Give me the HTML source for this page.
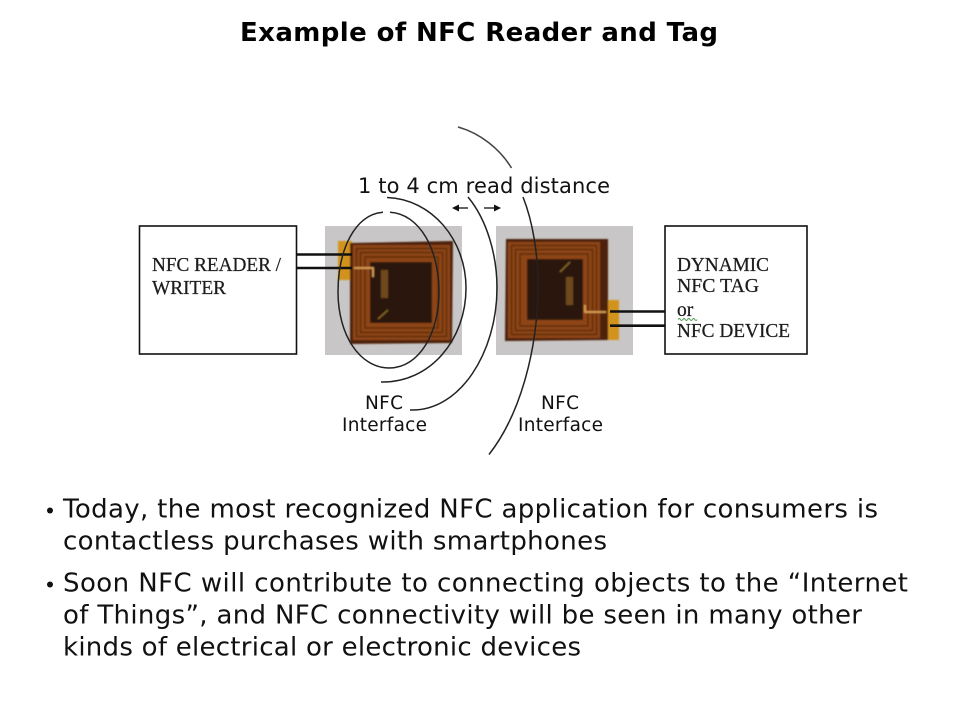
<!DOCTYPE html>
<html><head><meta charset="utf-8"><style>
html,body{margin:0;padding:0;background:#fff}
svg{display:block}
.v{font-family:"DejaVu Sans","Liberation Sans",sans-serif;fill:#111}
.s{font-family:"Liberation Serif",serif;fill:#1c1c1c;font-size:19.5px;stroke:#1c1c1c;stroke-width:.25px}
</style></head><body>
<svg width="960" height="720" viewBox="0 0 960 720" xmlns="http://www.w3.org/2000/svg">
<defs>
<filter id="b" x="-5%" y="-5%" width="110%" height="110%"><feGaussianBlur stdDeviation="0.8"/></filter>
<filter id="t" x="-5%" y="-20%" width="110%" height="140%"><feGaussianBlur stdDeviation="0.3"/></filter>
</defs>
<rect width="960" height="720" fill="#fff"/>
<text class="v" x="240" y="41" font-size="26" font-weight="bold" textLength="478" style="fill:#000">Example of NFC Reader and Tag</text>

<!-- boxes -->
<rect x="139.5" y="226" width="157" height="128" fill="#fff" stroke="#111" stroke-width="1.6"/>
<rect x="665" y="226" width="142" height="128" fill="#fff" stroke="#111" stroke-width="1.6"/>
<g filter="url(#t)">
<text class="s" x="152" y="271" textLength="129" lengthAdjust="spacingAndGlyphs">NFC READER /</text>
<text class="s" x="152" y="294" textLength="74" lengthAdjust="spacingAndGlyphs">WRITER</text>
<text class="s" x="677" y="271" textLength="92" lengthAdjust="spacingAndGlyphs">DYNAMIC</text>
<text class="s" x="677" y="292" textLength="82" lengthAdjust="spacingAndGlyphs">NFC TAG</text>
<text class="s" x="677" y="316">or</text>
<text class="s" x="677" y="337" textLength="113" lengthAdjust="spacingAndGlyphs">NFC DEVICE</text>
</g>
<path d="M678 319.500q1.200-2 2.400 0t2.400 0 2.400 0 2.400 0 2.400 0 2.400 0 2.400 0 2.400 0" fill="none" stroke="#4a9a4a" stroke-width=".9"/>

<!-- left chip -->
<rect x="325" y="226" width="137" height="129" fill="#c8c6c6"/>
<g filter="url(#b)">
<rect x="338" y="241" width="14" height="39" fill="#d2931e"/>
<path d="M350 243L453 241L452 343L350 344Z" fill="#4e2209"/>
<rect x="353" y="245" width="97" height="95" fill="#8e4516"/>
<rect x="356.500" y="248.500" width="90" height="88" fill="none" stroke="#5f2b0d" stroke-width="1.500"/>
<rect x="360.500" y="252.500" width="82" height="80" fill="none" stroke="#5f2b0d" stroke-width="1.500"/>
<rect x="365" y="257" width="73" height="71" fill="none" stroke="#5f2b0d" stroke-width="1.500"/>
<rect x="370" y="262" width="62" height="61" fill="#2c1407"/>
<rect x="381" y="270" width="7" height="28" fill="#6e4a1c"/>
<path d="M378 319l10-9" stroke="#8a6a28" stroke-width="1.500"/>
<path d="M354 268h19v9" fill="none" stroke="#e0a558" stroke-width="1.800"/>
</g>

<!-- right chip -->
<rect x="496" y="226" width="137" height="129" fill="#c8c6c6"/>
<g filter="url(#b)">
<rect x="606" y="300" width="13" height="40" fill="#d2931e"/>
<path d="M506 239L608 239L608 340L505 341Z" fill="#4e2209"/>
<rect x="508" y="242" width="92" height="96" fill="#8e4516"/>
<rect x="511.500" y="245.500" width="85" height="89" fill="none" stroke="#5f2b0d" stroke-width="1.500"/>
<rect x="515.500" y="249.500" width="77" height="81" fill="none" stroke="#5f2b0d" stroke-width="1.500"/>
<rect x="520" y="254" width="68" height="72" fill="none" stroke="#5f2b0d" stroke-width="1.500"/>
<rect x="527" y="259" width="56" height="61" fill="#2c1407"/>
<rect x="566" y="277" width="7" height="28" fill="#6e4a1c"/>
<path d="M570 262l-10 10" stroke="#8a6a28" stroke-width="1.500"/>
<path d="M606 312h-21v-7" fill="none" stroke="#e0a558" stroke-width="1.800"/>
</g>

<!-- wires -->
<g stroke="#111" stroke-width="2.600" fill="none">
<path d="M297 254.500h55M297 268h55M610 311.500h55M610 325.700h55"/>
</g>

<!-- field arcs -->
<g fill="none" stroke="#222" stroke-width="1.500">
<path d="M383 212.300C355 214 338 250 338 292C338 335 360 368 389 368C420 368 439 332 439 292C439 250 420 214 390 212.300"/>
<path d="M387 197.500C432 199 466 240 466 288C466 340 430 383 381 382"/>
<path d="M468 197C487 220 497 255 497 288C497 352 460 412 410 410"/>
<path d="M458 127C480 133 500 149 511.500 168" stroke="#444"/>
<path d="M523 197C533 222 538 255 538 285C538 350 520 415 489 454.500"/>
</g>

<!-- arrows -->
<g stroke="#111" stroke-width="1.300" fill="#111">
<path d="M468 208H457" fill="none"/><path d="M452 208l7-3.500v7z" stroke="none"/>
<path d="M484 208H496" fill="none"/><path d="M501 208l-7-3.500v7z" stroke="none"/>
</g>

<text class="v" x="358" y="193" font-size="21" textLength="252">1 to 4 cm read distance</text>
<text class="v" x="365" y="409" font-size="18.500" textLength="38">NFC</text>
<text class="v" x="342" y="431" font-size="18.500" textLength="85">Interface</text>
<text class="v" x="541" y="409" font-size="18.500" textLength="38">NFC</text>
<text class="v" x="518" y="431" font-size="18.500" textLength="85">Interface</text>

<!-- bullets -->
<circle cx="50" cy="510.500" r="3" fill="#111"/>
<circle cx="50" cy="584.500" r="3" fill="#111"/>
<g font-size="26">
<text class="v" x="63" y="517.500" textLength="815">Today, the most recognized NFC application for consumers is</text>
<text class="v" x="63" y="549.500" textLength="544">contactless purchases with smartphones</text>
<text class="v" x="63" y="591.500" textLength="845">Soon NFC will contribute to connecting objects to the “Internet</text>
<text class="v" x="63" y="623.500" textLength="799">of Things”, and NFC connectivity will be seen in many other</text>
<text class="v" x="63" y="655.500" textLength="518">kinds of electrical or electronic devices</text>
</g>
</svg>
</body></html>
